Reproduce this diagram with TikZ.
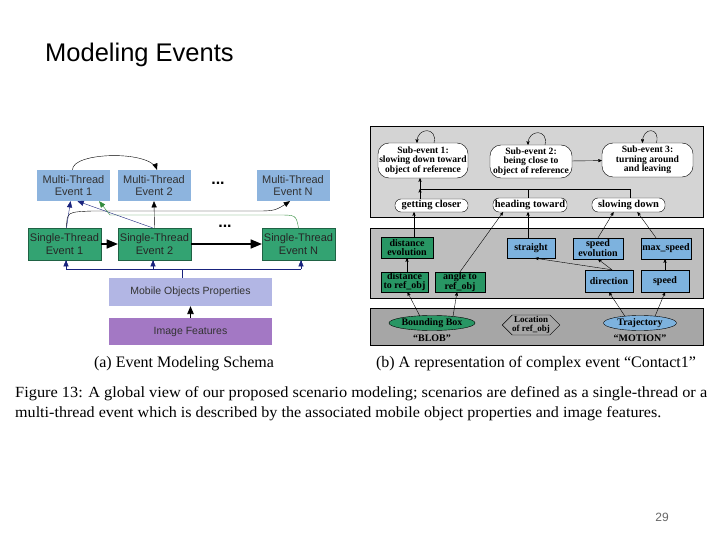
\documentclass[tikz,border=0pt]{standalone}
\usepackage{fontspec}
\setmainfont{Liberation Serif}
\setsansfont{Liberation Sans}
\usepackage{tikz}
\usetikzlibrary{calc}
\usetikzlibrary{arrows}
\usetikzlibrary{shapes.geometric,shapes.symbols}

\definecolor{mtblue}{RGB}{141,180,222}
\definecolor{stgreen}{RGB}{51,163,114}
\definecolor{mopblue}{RGB}{178,182,228}
\definecolor{imfpurple}{RGB}{163,120,196}
\definecolor{navy}{RGB}{25,35,125}
\definecolor{lgreen}{RGB}{50,140,60}
\definecolor{grayA}{RGB}{212,212,212}
\definecolor{grayB}{RGB}{190,190,190}
\definecolor{grayC}{RGB}{166,166,166}
\definecolor{fgreen}{RGB}{40,150,100}
\definecolor{fblue}{RGB}{125,178,222}

\begin{document}
\begin{tikzpicture}[x=1pt,y=-1pt,
  lbox/.style={inner sep=0pt, align=center, font=\sffamily\fontsize{11}{12.5}\selectfont},
  mt/.style={lbox, fill=mtblue, text=black!80, minimum width=73pt, minimum height=31pt},
  st/.style={lbox, fill=stgreen, draw=stgreen!60!black, text=black!85, minimum width=73pt, minimum height=32pt},
  sub/.style={draw, fill=white, rounded corners=11pt, inner sep=0pt, align=center, font=\bfseries\fontsize{9.6}{9.6}\selectfont},
  pill/.style={sub, rounded corners=6pt, font=\bfseries\fontsize{10.5}{10.5}\selectfont},
  small/.style={draw, inner sep=0pt, align=center, font=\bfseries\fontsize{10}{9}\selectfont},
  gbox/.style={small, fill=fgreen},
  bbox/.style={small, fill=fblue},
  rar/.style={->, >=stealth', thin},
  nv/.style={navy, thin, >=triangle 45}]
\useasboundingbox (0,0) rectangle (720,540);
\fill[white] (0,0) rectangle (720,540);

\node[anchor=base west, inner sep=0pt, font=\sffamily\fontsize{25.5}{30}\selectfont] (title) at (45,62) {Modeling Events};

% (a) event modeling schema
\node[mt] (MT1) at (73.5,185.5) {Multi-Thread\\Event 1};
\node[mt] (MT2) at (154,185.5) {Multi-Thread\\Event 2};
\node[mt] (MTN) at (293,185.5) {Multi-Thread\\Event N};
\node[font=\sffamily\bfseries\fontsize{16}{16}\selectfont] (dotsA) at (218,183) {...};
\node[st] (ST1) at (64.5,244) {Single-Thread\\Event 1};
\node[st] (ST2) at (154.5,244) {Single-Thread\\Event 2};
\node[st] (STN) at (298.5,244) {Single-Thread\\Event N};
\node[font=\sffamily\bfseries\fontsize{16}{16}\selectfont] (dotsB) at (225,226) {...};
\node[lbox, fill=mopblue, text=black!80, minimum width=163pt, minimum height=28pt, font=\sffamily\fontsize{10.5}{12}\selectfont] (MOP) at (190.5,292) {Mobile Objects Properties};
\node[lbox, fill=imfpurple, text=black!80, minimum width=163pt, minimum height=27pt, font=\sffamily\fontsize{10.5}{12}\selectfont] (IMF) at (190.5,331.5) {Image Features};

\coordinate (busL) at (66,269); \coordinate (busM) at (153,269);
\coordinate (busR) at (301,269); \coordinate (busC) at (182,269);
\draw[->, >=triangle 45, thick] (IMF) -- (MOP);
\draw[nv] (MOP.north -| busC) -- (busC);
\draw[nv] (busL) -- (busR);
\draw[nv,->] (busL) -- (ST1.south -| busL);
\draw[nv,->] (busM) -- (ST2.south -| busM);
\draw[nv,->] (busR) -- (STN.south -| busR);
\draw[->, >=triangle 45, line width=1.6pt] (ST1) -- (ST2);
\draw[->, >=triangle 45, line width=1.6pt] (ST2) -- (STN);
\draw[->, >=triangle 45] (ST2.north) -- (MT2.south);
\draw[->, >=triangle 45] ($(MT1.north)+(-1,0)$) .. controls (72,152) and (150,150) .. ($(MT2.north)+(3,0)$);
\draw[->, >=triangle 45] ($(ST1.north)+(2,0)$) .. controls (67,212) .. (92,211) -- (255,211) .. controls (275,211) .. ($(MTN.south)+(-3,0)$);
\draw[nv,->] ($(ST1.north)+(2,0)$) -- ($(MT1.south)+(-3,0)$);
\draw[nv,->] ($(ST2.north)+(-2,0)$) -- ($(MT1.south)+(4,0)$);
\draw[lgreen, thin, ->, >=triangle 45] (STN.north) .. controls (296,215) .. (278,215) -- (110,215) -- ($(MT1.south east)+(-11,0)$);

\node[anchor=base, font=\fontsize{16}{18}\selectfont] (capA) at (184,367) {(a) Event Modeling Schema};

% (b) complex event
\filldraw[fill=grayA, thin] (370,126) rectangle (703,217);
\filldraw[fill=grayB, thin] (370,228) rectangle (703,298);
\filldraw[fill=grayC, thin] (370,308) rectangle (703,345);

\node[sub, minimum width=90pt, minimum height=35pt] (SE1) at (423,160.5) {Sub-event 1:\\slowing down toward\\object of reference};
\node[sub, minimum width=82pt, minimum height=33pt] (SE2) at (531,161.5) {Sub-event 2:\\being close to\\object of reference};
\node[sub, minimum width=91pt, minimum height=34pt] (SE3) at (647.5,160) {Sub-event 3:\\turning around\\and leaving};
\node[pill, minimum width=73pt, minimum height=13pt] (gc) at (431.5,205.5) {getting closer};
\node[pill, minimum width=74pt, minimum height=14pt] (ht) at (530,205) {heading toward};
\node[pill, minimum width=73pt, minimum height=14pt] (sd) at (628.5,205) {slowing down};

\node[gbox, minimum width=52pt, minimum height=21pt] (de) at (407,247.5) {distance\\evolution};
\node[gbox, minimum width=47pt, minimum height=20pt] (dr) at (404.5,282) {distance\\to ref\_obj};
\node[gbox, minimum width=50pt, minimum height=20pt] (ar) at (460,282) {angle to\\ref\_obj};
\node[bbox, minimum width=48pt, minimum height=20pt] (str) at (531,248) {straight};
\node[bbox, minimum width=50pt, minimum height=21pt] (se) at (598,248.5) {speed\\evolution};
\node[bbox, minimum width=50pt, minimum height=21pt] (ms) at (666,248.5) {max\_speed};
\node[bbox, minimum width=48pt, minimum height=22pt] (dir) at (609,281) {direction};
\node[bbox, minimum width=48pt, minimum height=22pt] (spd) at (665,281) {speed};

\node[ellipse, draw, fill=fgreen, inner sep=0pt, minimum width=71pt, minimum height=15pt, font=\bfseries\fontsize{10}{10}\selectfont] (bb) at (432,323) {Bounding Box};
\node[signal, signal to=east and west, draw, fill=grayC, inner sep=0pt, minimum width=57pt, minimum height=20pt, align=center, font=\bfseries\fontsize{9}{8.5}\selectfont] (loc) at (531,325) {Location\\of ref\_obj};
\node[ellipse, draw, fill=fblue, inner sep=0pt, minimum width=73pt, minimum height=15pt, font=\bfseries\fontsize{10}{10}\selectfont] (tj) at (640,323) {Trajectory};
\node[font=\bfseries\fontsize{10}{10}\selectfont] (blob) at (432,338.5) {“BLOB”};
\node[font=\bfseries\fontsize{10}{10}\selectfont] (motion) at (640,338.5) {“MOTION”};

\coordinate (jn) at (420,189); \coordinate (jm) at (528,189); \coordinate (jr) at (630,189);
\coordinate (xde) at (414,0);
\draw[rar] (gc.north -| jn) -- (jn);
\draw[rar] (jn) -- (SE1.south -| jn);
\draw (sd.north -| jr) -- (jr) -- (jn);
\draw (ht.north -| jm) -- (jm);
\draw[rar] (SE2) -- (SE3);
\draw[rar] ($(SE1.north)+(11,0)$) .. controls ($(SE1.north)+(15,-16)$) and ($(SE1.north)+(-6,-16)$) .. ($(SE1.north)+(-6,0)$);
\draw[rar] ($(SE2.north)+(14,0)$) .. controls ($(SE2.north)+(18,-16)$) and ($(SE2.north)+(-3,-16)$) .. ($(SE2.north)+(-3,0)$);
\draw[rar] ($(SE3.north)+(9,0)$) .. controls ($(SE3.north)+(13,-16)$) and ($(SE3.north)+(-5,-16)$) .. ($(SE3.north)+(-5,0)$);

\draw[rar] (de.north -| xde) -- (gc.south -| xde);
\draw[rar] (dr.north -| de.south) -- (de.south);
\draw[rar] ($(bb.north)+(-12,1)$) -- ($(dr.south)+(3,0)$);
\draw[rar] ($(bb.north)+(21,1)$) -- ($(ar.south)+(-3,0)$);
\draw[rar] (ar.north) -- ($(ht.south)+(-27,0)$);
\draw[rar] (str.north -| jm) -- (ht.south -| jm);
\draw[rar] (se.north) -- ($(sd.south)+(-15,0)$);
\draw[rar] ($(ms.north)+(-10,0)$) -- ($(sd.south)+(9,0)$);
\draw[rar] ($(dir.north)+(3,0)$) -- ($(str.south)+(4,0)$);
\draw[rar] ($(dir.north)+(3,0)$) -- (se.south);
\draw[rar] (spd.north) -- (spd.north |- ms.south);
\draw[rar] ($(tj.north)+(-15,1)$) -- (dir.south);
\draw[rar] ($(tj.north)+(15,1)$) -- (spd.south);

\node[anchor=base, font=\fontsize{16}{18}\selectfont] (capB) at (536,367) {(b) A representation of complex event “Contact1”};

% figure text
\node[anchor=base west, inner sep=0pt, font=\fontsize{15.5}{18}\selectfont] (fig1) at (15,397) {\resizebox{692pt}{\height}{Figure 13: A global view of our proposed scenario modeling; scenarios are defined as a single-thread or a}};
\node[anchor=base west, inner sep=0pt, font=\fontsize{15.5}{18}\selectfont] (fig2) at (15,417) {\resizebox{646pt}{\height}{multi-thread event which is described by the associated mobile object properties and image features.}};

\node[anchor=base, text=black!60, font=\sffamily\fontsize{12}{14}\selectfont] (page) at (662,521) {29};
\end{tikzpicture}
\end{document}
